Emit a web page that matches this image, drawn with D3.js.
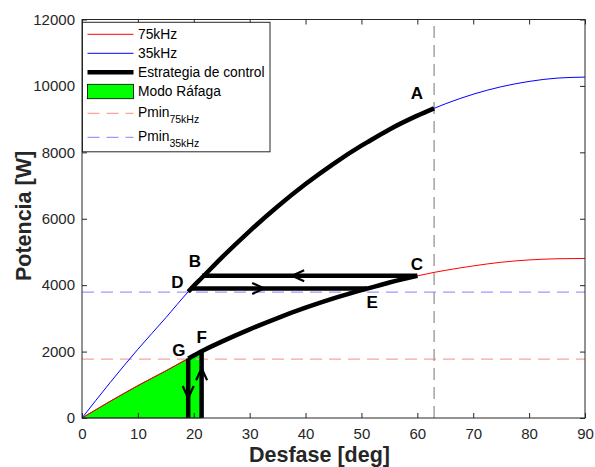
<!DOCTYPE html>
<html><head><meta charset="utf-8">
<script src="https://cdn.jsdelivr.net/npm/d3@7"></script>
<style>body{margin:0;background:#fff}svg{display:block}text{font-family:"Liberation Sans",Arial,sans-serif}</style>
</head><body><svg id="c" width="595" height="467"></svg>
<script>
// ---- data ----
const phaseDeg = [0,5,10,15,19,20,21.4,25,30,35,40,45,50,51,55,60,63,65,70,75,80,85,90];
const p35kHz   = [0,1060,2070,3020,3800,3980,4215,4830,5630,6370,7045,7655,8200,8300,8690,9105,9325,9460,9750,9975,10135,10235,10265];
const p75kHz   = [0,500,975,1420,1790,1880,2010,2300,2670,3010,3320,3600,3850,3895,4080,4280,4385,4445,4580,4690,4760,4795,4805];
const pmin75 = 1775, pmin35 = 3790, phiMax = 63;
const levelDE = 3900, levelBC = 4280;
const phiD = 19.5, phiE = 51, phiB = 21.5, phiC = 60, phiA = 63, phiG = 19, phiF = 21.4;
const xTicks = [0,10,20,30,40,50,60,70,80,90];
const yTicks = [0,2000,4000,6000,8000,10000,12000];
const pointLabels = [
  {t:"A", x:59.9, y:9600}, {t:"B", x:20.2, y:4556}, {t:"C", x:59.9, y:4457},
  {t:"D", x:17.05, y:3924}, {t:"E", x:51.9, y:3303}, {t:"F", x:21.4, y:2267}, {t:"G", x:17.35, y:1867}
];
const legendItems = ["75kHz","35kHz","Estrategia de control","Modo Ráfaga","Pmin","Pmin"];

// ---- setup ----
const svg = d3.select("#c");
const L=82, R=585, T=19.5, B=418;
const x = d3.scaleLinear().domain([0,90]).range([L,R]);
const y = d3.scaleLinear().domain([0,12000]).range([B,T]);
const blue = phaseDeg.map((d,i)=>[d,p35kHz[i]]);
const red  = phaseDeg.map((d,i)=>[d,p75kHz[i]]);
const interp = (arr, xv) => { for(let i=1;i<arr.length;i++){ if(xv<=arr[i][0]){const a=arr[i-1],b=arr[i];return a[1]+(b[1]-a[1])*(xv-a[0])/(b[0]-a[0]);} } return arr[arr.length-1][1]; };
const seg = (arr, a, b) => [[a,interp(arr,a)], ...arr.filter(p=>p[0]>a&&p[0]<b), [b,interp(arr,b)]];
const line = d3.line().x(d=>x(d[0])).y(d=>y(d[1]));
const curve = d3.line().x(d=>x(d[0])).y(d=>y(d[1])).curve(d3.curveMonotoneX);
const ink = "#262626";

// green burst-mode patch
const patch = [...seg(red,0,phiF),[phiF,0]];
svg.append("path").attr("d", line(patch)+"Z").attr("fill","#00ff00").attr("stroke","#000").attr("stroke-width",0.6);

// reference dashed lines
svg.append("line").attr("x1",x(0)).attr("x2",x(90)).attr("y1",y(pmin75)).attr("y2",y(pmin75))
  .attr("stroke","#f5a3a3").attr("stroke-width",1.2).attr("stroke-dasharray","12,7");
svg.append("line").attr("x1",x(0)).attr("x2",x(90)).attr("y1",y(pmin35)).attr("y2",y(pmin35))
  .attr("stroke","#9a9aff").attr("stroke-width",1.2).attr("stroke-dasharray","12,7");
svg.append("line").attr("x1",x(phiMax)).attr("x2",x(phiMax)).attr("y1",y(0)).attr("y2",y(12000))
  .attr("stroke","#8c8c8c").attr("stroke-width",1.2).attr("stroke-dasharray","12,7");

// thin curves
svg.append("path").attr("d",curve(red)).attr("fill","none").attr("stroke","#ff0000").attr("stroke-width",1);
svg.append("path").attr("d",curve(blue)).attr("fill","none").attr("stroke","#0000ff").attr("stroke-width",1);

// control strategy
const thick = g => g.attr("fill","none").attr("stroke","#000").attr("stroke-width",4.5).attr("stroke-linejoin","miter");
svg.append("path").attr("d",curve(seg(blue,phiD-0.5,phiA))).call(thick);
svg.append("path").attr("d",curve(seg(red,phiG,phiC))).call(thick);
svg.append("path").attr("d",line([[phiD,levelDE],[phiE,levelDE]])).call(thick);
svg.append("path").attr("d",line([[phiB,levelBC],[phiC,levelBC]])).call(thick);
svg.append("path").attr("d",line([[phiG,0],[phiG,interp(red,phiG)]])).call(thick);
svg.append("path").attr("d",line([[phiF,0],[phiF,interp(red,phiF)]])).call(thick);

// arrows
const arrows = [
  {x:37.6, y:levelBC, a:180}, {x:32.6, y:levelDE, a:0},
  {x:phiG, y:600, a:90}, {x:phiF, y:1500, a:-90}
];
arrows.forEach(d=>{
  svg.append("path").attr("d","M-12,-5.5 L0,0 L-12,5.5 M-6,-2.5 L0,0 L-6,2.5")
    .attr("transform",`translate(${x(d.x)},${y(d.y)}) rotate(${d.a})`)
    .attr("fill","none").attr("stroke","#000").attr("stroke-width",2.2).attr("stroke-linejoin","miter");
});

// point labels
svg.selectAll("text.pl").data(pointLabels).join("text").attr("class","pl")
  .attr("x",d=>x(d.x)).attr("y",d=>y(d.y)).attr("text-anchor","middle")
  .attr("font-size",17).attr("font-weight","bold").attr("fill","#000").text(d=>d.t);

// axes box
svg.append("rect").attr("x",L).attr("y",T).attr("width",R-L).attr("height",B-T)
  .attr("fill","none").attr("stroke",ink).attr("stroke-width",1);
const tl = 5;
const gx = svg.append("g").attr("transform",`translate(0,${B})`)
  .call(d3.axisBottom(x).tickValues(xTicks).tickSize(-tl).tickPadding(10).tickFormat(d3.format("d")));
const gxt = svg.append("g").attr("transform",`translate(0,${T})`)
  .call(d3.axisTop(x).tickValues(xTicks).tickSize(-tl).tickFormat(""));
const gy = svg.append("g").attr("transform",`translate(${L},0)`)
  .call(d3.axisLeft(y).tickValues(yTicks).tickSize(-tl).tickPadding(7).tickFormat(d3.format("d")));
const gyr = svg.append("g").attr("transform",`translate(${R},0)`)
  .call(d3.axisRight(y).tickValues(yTicks).tickSize(-tl).tickFormat(""));
[gx,gxt,gy,gyr].forEach(g=>{
  g.select(".domain").remove();
  g.selectAll("line").attr("stroke",ink);
  g.selectAll("text").attr("fill",ink).attr("font-size",15).attr("font-family","'Liberation Sans',Arial,sans-serif");
});

// axis titles
svg.append("text").attr("x",319.5).attr("y",461.5).attr("text-anchor","middle")
  .attr("font-size",21.5).attr("font-weight","bold").attr("fill",ink).text("Desfase [deg]");
svg.append("text").attr("transform",`translate(31,216) rotate(-90)`).attr("text-anchor","middle")
  .attr("font-size",21.5).attr("font-weight","bold").attr("fill",ink).text("Potencia [W]");

// legend
const lg = svg.append("g");
lg.append("rect").attr("x",82.5).attr("y",22.3).attr("width",187.5).attr("height",129.5)
  .attr("fill","#fff").attr("stroke",ink).attr("stroke-width",1);
const rowY = [34.3,53.3,72.3,91.5,113.3,137.3];
const lx1=87.5, lx2=133.5, tx=138;
lg.append("line").attr("x1",lx1).attr("x2",lx2).attr("y1",rowY[0]).attr("y2",rowY[0]).attr("stroke","#ff0000").attr("stroke-width",1);
lg.append("line").attr("x1",lx1).attr("x2",lx2).attr("y1",rowY[1]).attr("y2",rowY[1]).attr("stroke","#0000ff").attr("stroke-width",1);
lg.append("line").attr("x1",lx1).attr("x2",lx2).attr("y1",rowY[2]).attr("y2",rowY[2]).attr("stroke","#000").attr("stroke-width",4.5);
lg.append("rect").attr("x",lx1).attr("y",rowY[3]-7.2).attr("width",lx2-lx1).attr("height",14.4).attr("fill","#00ff00").attr("stroke","#000").attr("stroke-width",0.8);
lg.append("line").attr("x1",lx1).attr("x2",lx2).attr("y1",rowY[4]).attr("y2",rowY[4]).attr("stroke","#f5a3a3").attr("stroke-width",1.2).attr("stroke-dasharray","12,7");
lg.append("line").attr("x1",lx1).attr("x2",lx2).attr("y1",rowY[5]).attr("y2",rowY[5]).attr("stroke","#9a9aff").attr("stroke-width",1.2).attr("stroke-dasharray","12,7");
legendItems.forEach((t,i)=>{
  const ty = i<4 ? rowY[i]+4.8 : rowY[i]+3.3;
  const te = lg.append("text").attr("x",tx).attr("y",ty).attr("font-size",13.8).attr("fill","#000").text(t);
  if(i===4) te.append("tspan").attr("font-size",10.5).attr("dy",6).text("75kHz");
  if(i===5) te.append("tspan").attr("font-size",10.5).attr("dy",6.5).text("35kHz");
});
</script></body></html>
